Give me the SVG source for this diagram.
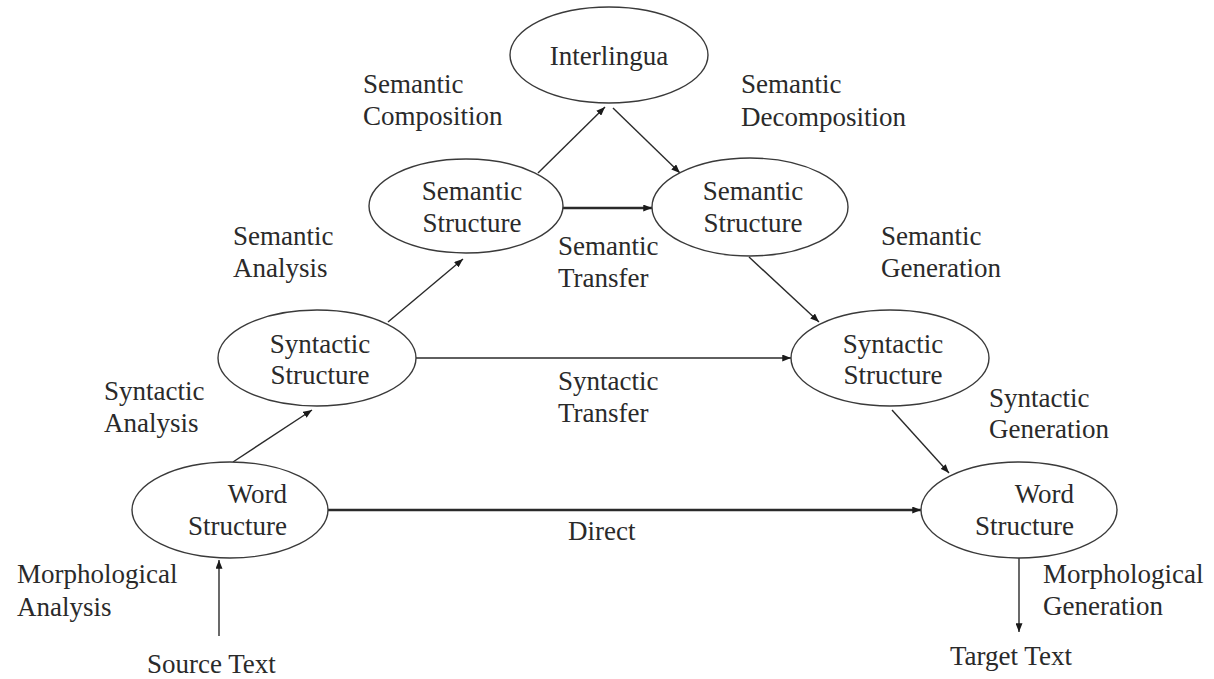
<svg xmlns="http://www.w3.org/2000/svg" width="1214" height="679" viewBox="0 0 1214 679">
<defs>
<style>
.node ellipse{fill:#fff;stroke:#3a3a3a;stroke-width:1.4}
text{font-family:"Liberation Serif","Times New Roman",serif;font-size:27px;fill:#2a2a2a}
.c{text-anchor:middle}
.e{text-anchor:end}
.conn line{stroke:#2a2a2a;stroke-width:1.4;marker-end:url(#ah)}
.conn line.thick{stroke-width:2.4}
</style>
<marker id="ah" viewBox="0 0 10 8" refX="10" refY="4" markerWidth="9" markerHeight="7" markerUnits="userSpaceOnUse" orient="auto">
<path d="M0,0 L10,4 L0,8 z" fill="#1a1a1a"/>
</marker>
</defs>
<rect width="1214" height="679" fill="#fff"/>
<g id="connectors" class="conn">
<line x1="219" y1="636" x2="219" y2="560"/>
<line x1="233" y1="462" x2="312" y2="410"/>
<line x1="388" y1="322" x2="463" y2="259"/>
<line x1="538" y1="173" x2="605" y2="107"/>
<line x1="613" y1="108" x2="680" y2="173"/>
<line x1="749" y1="257" x2="819" y2="322"/>
<line x1="892" y1="410" x2="949" y2="473"/>
<line x1="1019" y1="558" x2="1019" y2="632"/>
<line class="thick" x1="563" y1="208" x2="652" y2="208"/>
<line x1="416" y1="358" x2="791" y2="358"/>
<line class="thick" x1="328" y1="510" x2="921" y2="510"/>
</g>
<g id="interlingua" class="node"><ellipse cx="609" cy="55" rx="99" ry="48"/><text class="c" x="609" y="65">Interlingua</text></g>
<g id="semantic-src" class="node"><ellipse cx="466" cy="206" rx="97" ry="47"/><text class="c" x="472" y="200">Semantic</text><text class="c" x="472" y="232">Structure</text></g>
<g id="semantic-tgt" class="node"><ellipse cx="750" cy="207" rx="98" ry="49"/><text class="c" x="753" y="200">Semantic</text><text class="c" x="753" y="232">Structure</text></g>
<g id="syntactic-src" class="node"><ellipse cx="317" cy="358" rx="99" ry="48"/><text class="c" x="320" y="353">Syntactic</text><text class="c" x="320" y="384">Structure</text></g>
<g id="syntactic-tgt" class="node"><ellipse cx="890" cy="358" rx="99" ry="48"/><text class="c" x="893" y="353">Syntactic</text><text class="c" x="893" y="384">Structure</text></g>
<g id="word-src" class="node"><ellipse cx="230" cy="510" rx="98" ry="48"/><text class="e" x="287" y="503">Word</text><text class="e" x="287" y="535">Structure</text></g>
<g id="word-tgt" class="node"><ellipse cx="1019" cy="510" rx="98" ry="48"/><text class="e" x="1074" y="503">Word</text><text class="e" x="1074" y="535">Structure</text></g>
<g id="labels">
<text x="363" y="93">Semantic</text><text x="363" y="125">Composition</text>
<text x="741" y="93">Semantic</text><text x="741" y="126">Decomposition</text>
<text x="233" y="245">Semantic</text><text x="233" y="277">Analysis</text>
<text x="558" y="255">Semantic</text><text x="558" y="287">Transfer</text>
<text x="881" y="245">Semantic</text><text x="881" y="277">Generation</text>
<text x="104" y="400">Syntactic</text><text x="104" y="432">Analysis</text>
<text x="558" y="390">Syntactic</text><text x="558" y="422">Transfer</text>
<text x="989" y="407">Syntactic</text><text x="989" y="438">Generation</text>
<text x="568" y="540">Direct</text>
<text x="17" y="583">Morphological</text><text x="17" y="616">Analysis</text>
<text x="1043" y="583">Morphological</text><text x="1043" y="615">Generation</text>
<text x="147" y="673">Source Text</text>
<text x="950" y="665">Target Text</text>
</g>
</svg>
